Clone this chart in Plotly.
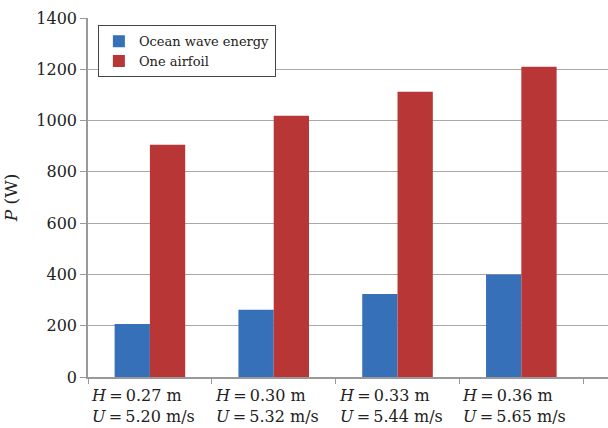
import plotly.graph_objects as go

categories = ["H=0.27 m, U=5.20 m/s", "H=0.30 m, U=5.32 m/s",
              "H=0.33 m, U=5.44 m/s", "H=0.36 m, U=5.65 m/s"]
tick_labels = ["<i>H</i>\u2009=\u20090.27 m<br><i>U</i>\u2009=\u20095.20 m/s",
               "<i>H</i>\u2009=\u20090.30 m<br><i>U</i>\u2009=\u20095.32 m/s",
               "<i>H</i>\u2009=\u20090.33 m<br><i>U</i>\u2009=\u20095.44 m/s",
               "<i>H</i>\u2009=\u20090.36 m<br><i>U</i>\u2009=\u20095.65 m/s"]
series_names = ["Ocean wave energy", "One airfoil"]
ocean_wave = [207, 262, 324, 400]
one_airfoil = [906, 1019, 1112, 1210]

FONT = "DejaVu Serif"


def serif(s):
    return '<span style="font-family:\'DejaVu Serif\', serif">' + s + '</span>'


fig = go.Figure()
fig.add_trace(go.Bar(x=categories, y=ocean_wave, name=serif(series_names[0]),
                     marker=dict(color="#3670b8", line=dict(width=0))))
fig.add_trace(go.Bar(x=categories, y=one_airfoil, name=serif(series_names[1]),
                     marker=dict(color="#b83636", line=dict(width=0))))

for i, lab in enumerate(tick_labels):
    fig.add_annotation(x=i - 0.5, y=0, xref="x", yref="paper", text=lab,
                       showarrow=False, xanchor="left", yanchor="top",
                       align="left", xshift=1, yshift=-7,
                       font=dict(family=FONT, size=16, color="#222"))

fig.update_layout(
    width=608, height=428,
    margin=dict(l=88, r=0, t=18, b=51),
    paper_bgcolor="white", plot_bgcolor="white",
    barmode="group", bargap=0.43, bargroupgap=0,
    font=dict(family=FONT, size=16, color="#222"),
    legend=dict(x=0.019, y=0.98, xanchor="left", yanchor="top",
                bgcolor="white", bordercolor="#444", borderwidth=1,
                font=dict(family=FONT, size=13, color="#222"),
                tracegroupgap=0, itemwidth=30),
    showlegend=True,
)
fig.update_xaxes(type="category", range=[-0.5, 3.7], showticklabels=False,
                 showline=True, linecolor="#999", linewidth=1.5,
                 ticks="outside", tickson="boundaries", ticklen=5,
                 tickcolor="#999", showgrid=False)
fig.update_yaxes(range=[0, 1400], dtick=200, showline=True, linecolor="#999",
                 linewidth=1.5, ticks="outside", ticklen=6, tickcolor="#999",
                 gridcolor="#a8a8a8", gridwidth=1,
                 tickfont=dict(family=FONT, size=16, color="#222"),
                 title=dict(text=serif("<i>P</i> (W)"), standoff=14,
                            font=dict(family=FONT, size=17, color="#222")))

fig.write_html("out.html")
